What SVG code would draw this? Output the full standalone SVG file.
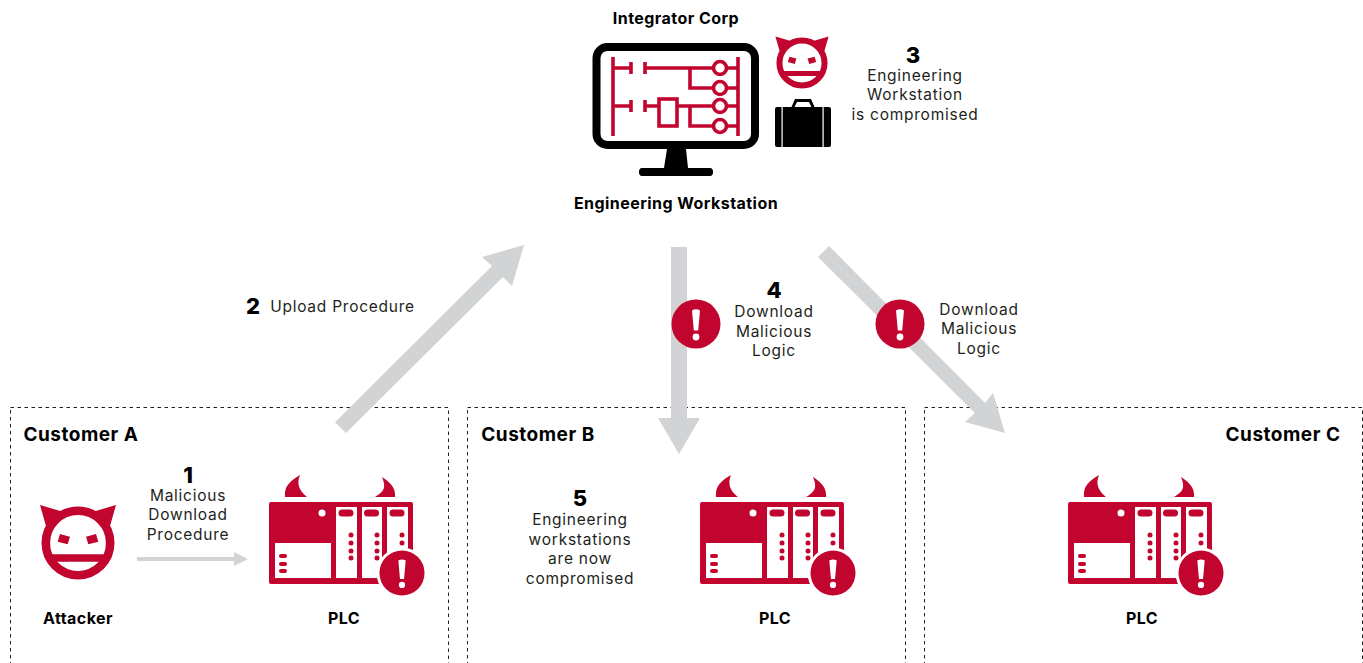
<svg xmlns="http://www.w3.org/2000/svg" xmlns:xlink="http://www.w3.org/1999/xlink" width="1363" height="663" viewBox="0 0 1363 663">
<style>
text{font-family:"Inter","Liberation Sans",sans-serif;fill:#231f20;text-anchor:middle}
.l{font-size:15.5px;font-weight:400;letter-spacing:.75px}
.b{font-size:16px;font-weight:700;fill:#000;letter-spacing:.45px}
.h{font-size:19px;font-weight:700;fill:#000;letter-spacing:.5px}
.n{font-size:22px;font-weight:800;fill:#000}
.box{fill:none;stroke:#231f20;stroke-width:1;stroke-dasharray:3.5 3.5}
.arr{fill:#d1d3d4}
.r{fill:#c1052f}
.k{fill:#000}
.w{fill:#fff}
.lad{fill:none;stroke:#c1052f;stroke-width:3.6}
</style>
<defs>
<symbol id="devil" overflow="visible" viewBox="-40 -40 80 80" width="80" height="80">
<circle cx="0" cy="0" r="32.2" fill="#fff" stroke="#c1052f" stroke-width="8.6"/>
<path class="r" d="M-38-38L-16-31.500-32-17ZM38-38L16-31.500 32-17Z"/>
<path class="r" d="M-31 11.300H31V18.700H-31Z"/>
<path class="r" d="M-18-9L-8-6.300-10.300 1.300-20.300-1.300ZM18-9L8-6.300 10.300 1.300 20.300-1.300Z"/>
</symbol>
<symbol id="alert" overflow="visible" viewBox="-25 -25 50 50" width="50" height="50">
<circle r="24.500" class="r"/>
<path class="w" d="M-4-13.500Q0-16 4-13.500L2.200 6.500H-2.200Z"/>
<circle cy="13" r="3.400" class="w"/>
</symbol>
<symbol id="plc" overflow="visible" viewBox="0 0 170 130" width="170" height="130">
<path class="r" d="M35 37C34 26 40 21 50 15C46 25 50 31 57 37ZM145 37C146 28 140 22 132 17C136 27 135 31 125 37Z" />
<rect x="19" y="42" width="144" height="82" rx="2" class="r"/>
<rect x="25" y="83" width="56" height="35" class="w"/>
<rect x="86" y="47" width="21" height="71" class="w"/>
<rect x="112" y="47" width="20" height="71" class="w"/>
<rect x="137" y="47" width="21" height="71" class="w"/>
<circle cx="72" cy="53" r="3.500" class="w"/>
<g class="r">
<rect x="88.500" y="49.500" width="15" height="7" rx="3.500"/><rect x="114" y="49.500" width="15" height="7" rx="3.500"/><rect x="139.500" y="49.500" width="15" height="7" rx="3.500"/>
<circle cx="101" cy="75" r="2.500"/><circle cx="101" cy="83" r="2.500"/><circle cx="101" cy="91" r="2.500"/><circle cx="101" cy="98" r="2.500"/>
<circle cx="127" cy="75" r="2.500"/><circle cx="127" cy="83" r="2.500"/><circle cx="127" cy="91" r="2.500"/><circle cx="127" cy="98" r="2.500"/>
<circle cx="152" cy="75" r="2.500"/><circle cx="152" cy="83" r="2.500"/>
<rect x="29" y="94" width="8" height="4" rx="2"/><rect x="29" y="102" width="8" height="4" rx="2"/><rect x="29" y="109" width="8" height="4" rx="2"/>
</g>
<circle cx="152" cy="113" r="25.500" class="w"/>
<use xlink:href="#alert" href="#alert" x="129" y="90" width="46" height="46"/>
</symbol>
</defs>
<rect width="1363" height="663" fill="#fff"/>
<g id="customer-boxes">
<rect id="box-a" class="box" x="10.500" y="407.500" width="438" height="300"/>
<rect id="box-b" class="box" x="467.500" y="407.500" width="438" height="300"/>
<rect id="box-c" class="box" x="924.500" y="407.500" width="438" height="300"/>
</g>
<g id="connectors">
<path class="arr" d="M335 422.300L346 433L503 277L512 286L524 245L482 257L492 266Z"/>
<path class="arr" d="M671 247H687V418H700L679 454L658 418H671Z"/>
<path class="arr" d="M818 257L829 246L985 403L993 393L1005 433L965 422L975 413Z"/>
<path class="arr" d="M137 557H234V552L248 559L234 566V561H137Z"/>
</g>
<g id="workstation">
<rect x="596.500" y="47" width="158.500" height="98" rx="11" fill="#fff" stroke="#000" stroke-width="8"/>
<path class="k" d="M667 149H686L688 168H710Q713 168 713 172T710 176H642Q639 176 639 172T642 168H664Z"/>
<path class="lad" d="M613 57V136M738 57V136M613 68H631M631 62V74M645 62V74M645 68H714M726 68H738M690 68V88H714M726 88H738M613 106H631M631 100V112M645 100V112M645 106H659M677 106H714M726 106H738M690 106V126H714M726 126H738"/>
<rect class="lad" x="659" y="99" width="18" height="27"/>
<g fill="#fff" stroke="#c1052f" stroke-width="3.600"><circle cx="720" cy="68" r="6.500"/><circle cx="720" cy="88" r="6.500"/><circle cx="720" cy="106" r="6.500"/><circle cx="720" cy="126" r="6.500"/></g>
<text class="b" x="676" y="24">Integrator Corp</text>
<text class="b" x="676" y="209">Engineering Workstation</text>
</g>
<g id="compromised">
<use xlink:href="#devil" href="#devil" x="774" y="35" width="56" height="56"/>
<path class="k" d="M791.500 107L795 99H811L814.500 107H811.500L809 102H797L794.500 107Z"/>
<rect class="k" x="775" y="107" width="56" height="40" rx="2"/>
<rect class="w" x="781.500" y="107" width="1.200" height="40"/>
<rect class="w" x="822.500" y="107" width="1.200" height="40"/>
<text class="n" x="913" y="63">3</text>
<text class="l" x="915" y="81">Engineering</text>
<text class="l" x="915" y="100">Workstation</text>
<text class="l" x="915" y="120">is compromised</text>
</g>
<g id="label-2"><text class="n" x="253" y="314">2</text><text class="l" x="342.500" y="312">Upload Procedure</text></g>
<g id="alert-b"><use xlink:href="#alert" href="#alert" x="671" y="299" width="50" height="50"/>
<text class="n" x="774" y="298">4</text>
<text class="l" x="774" y="317">Download</text><text class="l" x="774" y="337">Malicious</text><text class="l" x="774" y="356">Logic</text></g>
<g id="alert-c"><use xlink:href="#alert" href="#alert" x="875" y="299" width="50" height="50"/>
<text class="l" x="979" y="315">Download</text><text class="l" x="979" y="334">Malicious</text><text class="l" x="979" y="354">Logic</text></g>
<g id="customer-a">
<text class="h" x="81" y="441">Customer A</text>
<use xlink:href="#devil" href="#devil" x="38" y="503" width="80" height="80"/>
<text class="b" x="78" y="624">Attacker</text>
<text class="n" x="188" y="483">1</text>
<text class="l" x="188" y="501">Malicious</text><text class="l" x="188" y="520">Download</text><text class="l" x="188" y="540">Procedure</text>
<use xlink:href="#plc" href="#plc" x="250" y="460" width="170" height="130"/>
<text class="b" x="344" y="624">PLC</text>
</g>
<g id="customer-b">
<text class="h" x="538" y="441">Customer B</text>
<text class="n" x="580" y="506">5</text>
<text class="l" x="580" y="525">Engineering</text><text class="l" x="580" y="545">workstations</text><text class="l" x="580" y="564">are now</text><text class="l" x="580" y="584">compromised</text>
<use xlink:href="#plc" href="#plc" x="681" y="460" width="170" height="130"/>
<text class="b" x="775" y="624">PLC</text>
</g>
<g id="customer-c">
<text class="h" x="1283" y="441">Customer C</text>
<use xlink:href="#plc" href="#plc" x="1049" y="460" width="170" height="130"/>
<text class="b" x="1142" y="624">PLC</text>
</g>
</svg>
